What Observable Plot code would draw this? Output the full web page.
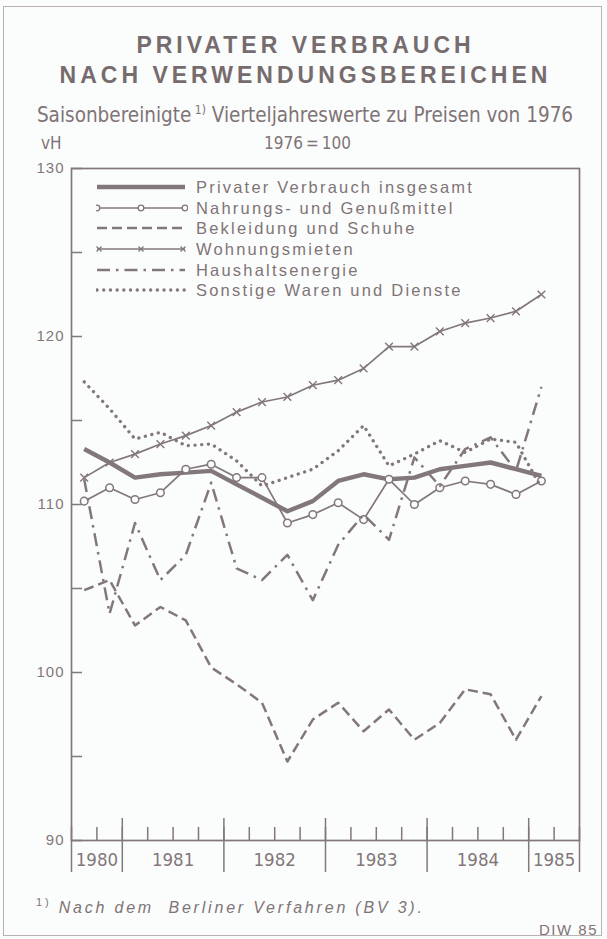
<!DOCTYPE html>
<html><head><meta charset="utf-8">
<script src="https://cdn.jsdelivr.net/npm/d3@7"></script>
<script src="https://cdn.jsdelivr.net/npm/@observablehq/plot@0.6"></script>
<style>
html,body{margin:0;padding:0;background:#fbfcfc;}
#wrap{position:relative;width:607px;height:939px;overflow:hidden;background:#fbfcfc;color:#7f7476;font-family:"Liberation Sans",Arial,sans-serif;}
#border{position:absolute;left:3px;top:6px;width:597px;height:928px;border:1.5px solid #b9b1b2;}
.abs{position:absolute;white-space:nowrap;}
#title{left:0;top:30px;width:611px;text-align:center;font-weight:bold;font-size:23px;letter-spacing:4px;line-height:30px;color:#766b6d;}
.cond{font-family:"DejaVu Sans Condensed","DejaVu Sans",sans-serif;font-stretch:condensed;}
#sub{left:0;top:102px;width:610px;text-align:center;font-size:20.5px;line-height:26px;}
#sub sup{font-size:12px;vertical-align:8px;line-height:0;}
#foot sup{font-size:11px;vertical-align:7px;line-height:0;}
#vh{left:41px;top:132px;font-size:17px;line-height:22px;}
#base{left:264px;top:132px;font-size:17px;line-height:22px;}
#plot{position:absolute;left:0;top:150px;}
#legend{position:absolute;left:96px;top:177px;}
.lrow{height:20.6px;display:flex;align-items:center;}
.lrow svg{width:92px;height:14px;flex:none;}
.lrow span{margin-left:8px;font-size:16.5px;letter-spacing:2.2px;line-height:20px;}
#foot{left:36px;top:897px;font-style:italic;font-size:16px;letter-spacing:2.8px;line-height:22px;}
#diw{right:9px;top:920px;font-size:15px;letter-spacing:1.5px;line-height:20px;}
g[aria-label="y-axis tick label"] text{letter-spacing:1px;}
</style></head>
<body>
<div id="wrap">
  <div id="border"></div>
  <div id="title" class="abs">PRIVATER VERBRAUCH<br>NACH VERWENDUNGSBEREICHEN</div>
  <div id="sub" class="abs cond">Saisonbereinigte<sup> 1)</sup> Vierteljahreswerte zu Preisen von 1976</div>
  <div id="vh" class="abs cond">vH</div>
  <div id="base" class="abs cond">1976&#8201;=&#8201;100</div>
  <div id="plot"></div>
  <div id="legend"></div>
  <div id="foot" class="abs"><sup style="font-style:normal">1)</sup> Nach dem&nbsp; Berliner Verfahren (BV 3).</div>
  <div id="diw" class="abs">DIW 85</div>
</div>
<script>
// ---- data (quarterly, seasonally adjusted, 1976 = 100) ----
const quarters = ["1980-3","1980-4","1981-1","1981-2","1981-3","1981-4","1982-1","1982-2","1982-3","1982-4",
                  "1983-1","1983-2","1983-3","1983-4","1984-1","1984-2","1984-3","1984-4","1985-1"];
const insgesamt  = [113.3,112.5,111.6,111.8,111.9,112.0,111.2,110.4,109.6,110.2,111.4,111.8,111.5,111.6,112.1,112.3,112.5,112.1,111.7];
const nahrung    = [110.2,111.0,110.3,110.7,112.1,112.4,111.6,111.6,108.9,109.4,110.1,109.1,111.5,110.0,111.0,111.4,111.2,110.6,111.4];
const bekleidung = [104.9,105.5,102.8,103.9,103.1,100.3,99.3,98.2,94.7,97.2,98.2,96.5,97.8,96.0,97.0,99.0,98.7,96.0,98.6];
const wohnung    = [111.6,112.5,113.0,113.6,114.1,114.7,115.5,116.1,116.4,117.1,117.4,118.1,119.4,119.4,120.3,120.8,121.1,121.5,122.5];
const energie    = [111.5,103.5,108.9,105.5,107.0,111.3,106.2,105.5,107.0,104.3,107.6,109.4,107.9,112.8,111.1,113.3,114.0,112.0,117.0];
const sonstige   = [117.3,115.7,113.9,114.3,113.5,113.6,112.6,111.1,111.6,112.1,113.2,114.7,112.3,113.0,113.8,113.1,113.9,113.7,111.0];
const seriesNames = ["Privater Verbrauch insgesamt","Nahrungs- und Genußmittel","Bekleidung und Schuhe",
                     "Wohnungsmieten","Haushaltsenergie","Sonstige Waren und Dienste"];
const yearLabels = ["1980","1981","1982","1983","1984","1985"];
const yTickLabels = [90,100,110,120,130];

// ---- styling ----
const ink = "#827779";
const bg = "#fbfcfc";
const styles = [
  {strokeWidth: 4.4},
  {strokeWidth: 1.7, marker: "circle"},
  {strokeWidth: 2.5, strokeDasharray: "10,5"},
  {strokeWidth: 1.7, marker: "times"},
  {strokeWidth: 2.5, strokeDasharray: "13,6,2.5,6"},
  {strokeWidth: 3.3, strokeDasharray: "0.1,6.6", strokeLinecap: "round"}
];
const values = [insgesamt, nahrung, bekleidung, wohnung, energie, sonstige];

// quarter -> decimal year at mid-quarter
const xOf = q => { const [y, k] = q.split("-").map(Number); return y + (k - 1) * 0.25 + 0.125; };
const xs = quarters.map(xOf);
const xDomain = [xs[0] - 0.125, xs[xs.length - 1] + 0.375];
const rows = vals => vals.map((v, i) => ({x: xs[i], y: v, q: quarters[i]}));

const years = yearLabels.map(Number);
const quarterEdges = d3.range(xDomain[0], xDomain[1] + 1e-9, 0.25);
const yearEdgesInner = years.filter(y => y > xDomain[0] && y < xDomain[1]);
const yearEdgesAll = [xDomain[0], ...yearEdgesInner, xDomain[1]];
const yearMids = years.map(y => (Math.max(y, xDomain[0]) + Math.min(y + 1, xDomain[1])) / 2);
const midLabel = new Map(yearMids.map((m, i) => [m, yearLabels[i]]));
const yAllTicks = d3.range(yTickLabels[0], yTickLabels[yTickLabels.length - 1] + 1, 5);

const marks = [
  Plot.frame({stroke: ink, strokeWidth: 1.7}),
  Plot.axisY({ticks: yTickLabels, tickSize: 0, tickPadding: 7, fontSize: 15, label: null, fill: ink}),
  Plot.axisY({ticks: yAllTicks, tickSize: -11, fill: "none", label: null, stroke: ink, strokeWidth: 1.5}),
  Plot.axisX({ticks: quarterEdges, tickSize: -13, fill: "none", label: null, stroke: ink, strokeWidth: 1.5}),
  Plot.axisX({ticks: yearEdgesInner, tickSize: -22, fill: "none", label: null, stroke: ink, strokeWidth: 1.5}),
  Plot.axisX({ticks: yearEdgesAll, tickSize: 32, fill: "none", label: null, stroke: ink, strokeWidth: 1.5}),
  Plot.axisX({ticks: yearMids, tickSize: 0, tickPadding: 12, tickFormat: d => midLabel.get(d), label: null,
              fontSize: 18.5, fontFamily: "DejaVu Sans Condensed, DejaVu Sans, sans-serif", fill: ink})
];
values.forEach((vals, i) => {
  const s = styles[i];
  marks.push(Plot.line(rows(vals), {x: "x", y: "y", stroke: ink, strokeWidth: s.strokeWidth,
    strokeDasharray: s.strokeDasharray, strokeLinecap: s.strokeLinecap || "butt", strokeLinejoin: "round"}));
  if (s.marker === "circle") marks.push(Plot.dot(rows(vals), {x: "x", y: "y", r: 3.8, fill: bg, stroke: ink, strokeWidth: 1.5}));
  if (s.marker === "times") marks.push(Plot.dot(rows(vals), {x: "x", y: "y", r: 3.6, symbol: "times", stroke: ink, strokeWidth: 1.4}));
});

const chart = Plot.plot({
  width: 607, height: 735,
  marginLeft: 71, marginRight: 28, marginTop: 18, marginBottom: 45,
  style: {background: "transparent", color: ink, fontFamily: "Liberation Sans, Arial, sans-serif", overflow: "visible"},
  x: {domain: xDomain, axis: null},
  y: {domain: [yTickLabels[0], yTickLabels[yTickLabels.length - 1]], axis: null},
  marks
});
document.getElementById("plot").appendChild(chart);

// ---- legend ----
const legend = d3.select("#legend");
seriesNames.forEach((name, i) => {
  const s = styles[i];
  const row = legend.append("div").attr("class", "lrow");
  const svg = row.append("svg").attr("viewBox", "0 0 92 14");
  svg.append("line").attr("x1", 1).attr("x2", 89).attr("y1", 7).attr("y2", 7)
    .attr("stroke", ink).attr("stroke-width", s.strokeWidth)
    .attr("stroke-dasharray", s.strokeDasharray || null)
    .attr("stroke-linecap", s.strokeLinecap || "butt");
  if (s.marker === "circle") [1, 45, 89].forEach(cx => svg.append("circle").attr("cx", cx).attr("cy", 7).attr("r", 2.8)
    .attr("fill", bg).attr("stroke", ink).attr("stroke-width", 1.3));
  if (s.marker === "times") [3, 45, 87].forEach(cx => svg.append("path")
    .attr("d", `M${cx-2.5},4.5L${cx+2.5},9.5M${cx-2.5},9.5L${cx+2.5},4.5`).attr("stroke", ink).attr("stroke-width", 1.3));
  row.append("span").text(name);
});
</script>
</body></html>
